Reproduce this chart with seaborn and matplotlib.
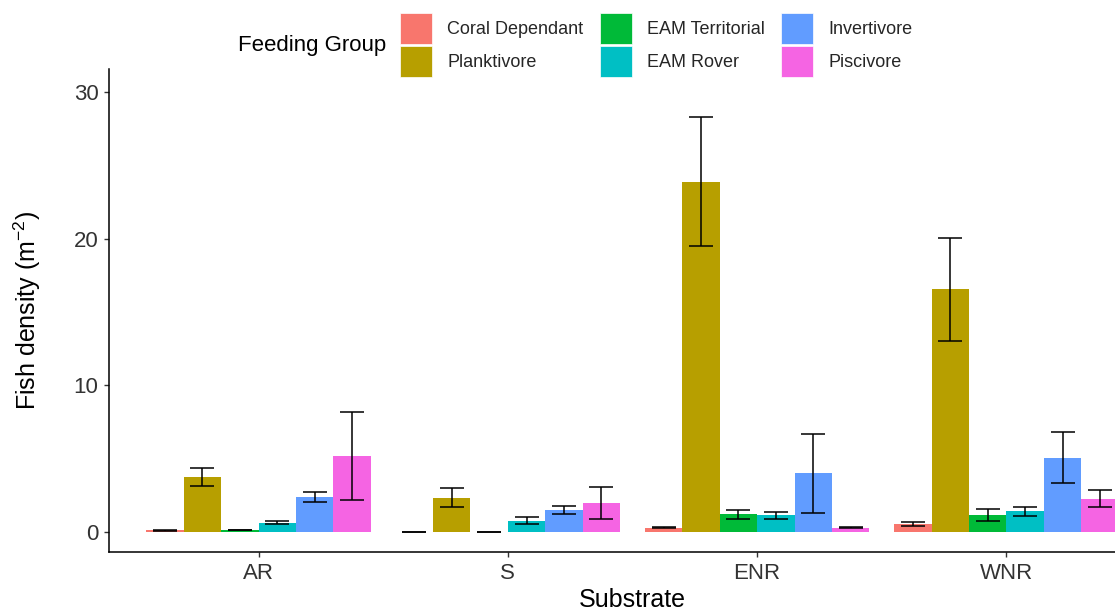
import matplotlib
matplotlib.use("Agg")
import matplotlib.pyplot as plt
import seaborn as sns
import pandas as pd
from matplotlib.patches import Patch

# ---- data ----
substrates = ["AR", "S", "ENR", "WNR"]
groups = ["Coral Dependant", "Planktivore", "EAM Territorial",
          "EAM Rover", "Invertivore", "Piscivore"]
colors = ["#F8766D", "#B79F00", "#00BA38", "#00BFC4", "#619CFF", "#F564E3"]

# mean density per substrate (AR, S, ENR, WNR) for each group
coral_mean = [0.08, 0.0, 0.28, 0.54]
plank_mean = [3.72, 2.33, 23.9, 16.55]
eamt_mean = [0.13, 0.0, 1.2, 1.15]
eamr_mean = [0.6, 0.73, 1.12, 1.38]
invert_mean = [2.38, 1.48, 4.0, 5.05]
pisc_mean = [5.15, 1.95, 0.27, 2.25]

# standard errors
coral_se = [0.02, 0.0, 0.03, 0.15]
plank_se = [0.62, 0.68, 4.42, 3.5]
eamt_se = [0.0, 0.0, 0.31, 0.43]
eamr_se = [0.1, 0.24, 0.25, 0.28]
invert_se = [0.35, 0.3, 2.7, 1.75]
pisc_se = [3.0, 1.07, 0.03, 0.6]

means = [coral_mean, plank_mean, eamt_mean, eamr_mean, invert_mean, pisc_mean]
ses = [coral_se, plank_se, eamt_se, eamr_se, invert_se, pisc_se]

rows = []
for g, m, s in zip(groups, means, ses):
    for sub, mv, sv in zip(substrates, m, s):
        rows.append({"Substrate": sub, "Group": g, "Density": mv, "SE": sv})
df = pd.DataFrame(rows)

# ---- plot ----
sns.set_theme(style="white")
plt.rcParams["font.family"] = ["Liberation Sans", "DejaVu Sans"]
plt.rcParams["mathtext.fontset"] = "custom"
plt.rcParams["mathtext.rm"] = "Liberation Sans"
plt.rcParams["mathtext.it"] = "Liberation Sans:italic"
plt.rcParams["mathtext.bf"] = "Liberation Sans:bold"

W, H = 1115, 615
fig = plt.figure(figsize=(W / 100, H / 100), dpi=100)
left, right, top, bottom = 109, 1156, 69, 552.3
ax = fig.add_axes([left / W, 1 - bottom / H, (right - left) / W, (bottom - top) / H])

sns.barplot(data=df, x="Substrate", y="Density", hue="Group",
            order=substrates, hue_order=groups, palette=colors,
            width=0.9, saturation=1, linewidth=0, errorbar=None,
            legend=False, ax=ax)

for container, g in zip(ax.containers, groups):
    sub_df = df[df["Group"] == g].set_index("Substrate")
    for bar, sub in zip(container, substrates):
        xc = bar.get_x() + bar.get_width() / 2
        m = sub_df.loc[sub, "Density"]
        s = sub_df.loc[sub, "SE"]
        ax.errorbar(xc, m, yerr=s, fmt="none", ecolor="black",
                    elinewidth=1.1, capsize=8.6, capthick=1.1, zorder=5)

ax.set_xlim(-0.6, 3.6)
ax.set_ylim(-1.41, 31.6)
ax.set_yticks([0, 10, 20, 30])

for sp in ["top", "right"]:
    ax.spines[sp].set_visible(False)
for sp in ["left", "bottom"]:
    ax.spines[sp].set_color("black")
    ax.spines[sp].set_linewidth(1.1)

ax.tick_params(axis="both", which="major", length=3.5, width=1.0,
               color="#333333", labelcolor="#333333", labelsize=16, pad=4,
               bottom=True, left=True)

ax.set_xlabel("Substrate", fontsize=18, color="black", labelpad=3)
ax.set_ylabel(r"Fish density (m$^{-2}$)", fontsize=18, color="black", labelpad=22)

# legend
handles = [Patch(facecolor=c, edgecolor="white", linewidth=0.5, label=g)
           for g, c in zip(groups, colors)]
fig.legend(handles=handles, loc="upper left",
           bbox_to_anchor=(400 / W, 1 - 13 / H), ncol=3, frameon=False,
           fontsize=13, handlelength=1.77, handleheight=2.26,
           handletextpad=0.85, columnspacing=0.9, labelspacing=0.11,
           borderpad=0, borderaxespad=0)
fig.text(238 / W, 1 - 45 / H, "Feeding Group", fontsize=16, color="black",
         ha="left", va="center")

fig.savefig("out.png", dpi=100)
